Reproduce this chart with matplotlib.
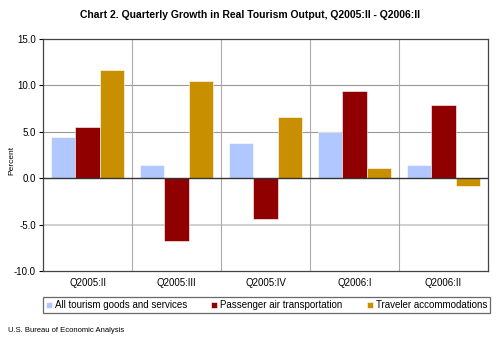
import matplotlib.pyplot as plt
import numpy as np

# --- Data ---
quarters = ["Q2005:II", "Q2005:III", "Q2005:IV", "Q2006:I", "Q2006:II"]
all_tourism = [4.4, 1.4, 3.8, 5.0, 1.4]
air_transport = [5.5, -6.8, -4.4, 9.4, 7.9]
accommodations = [11.7, 10.5, 6.6, 1.1, -0.8]

series_names = ["All tourism goods and services",
                "Passenger air transportation",
                "Traveler accommodations"]
series_colors = ["#B0C8FF", "#900000", "#C89000"]

plt.rcParams['font.family'] = ['Liberation Sans', 'DejaVu Sans']

fig = plt.figure(figsize=(5.0, 3.41), dpi=100)
ax = fig.add_axes([43 / 500, 1 - 271 / 341, 445 / 500, 232 / 341])

x = np.arange(len(quarters))
width = 0.27
for i, (vals, name, col) in enumerate(zip([all_tourism, air_transport, accommodations],
                                          series_names, series_colors)):
    ax.bar(x + (i - 1) * width, vals, width, color=col, label=name,
           edgecolor='white', linewidth=0.4, zorder=3)

ax.set_xlim(-0.5, len(quarters) - 0.5)
ax.set_ylim(-10, 15)
ax.set_yticks([-10, -5, 0, 5, 10, 15])
ax.set_yticklabels([f"{v:.1f}" for v in [-10, -5, 0, 5, 10, 15]], fontsize=7)
ax.set_xticks(x)
ax.set_xticklabels(quarters, fontsize=7)
ax.tick_params(axis='x', length=0, pad=5)
ax.tick_params(axis='y', length=3, width=0.8, pad=2)

# grid lines
for v in [5, 10]:
    ax.axhline(v, color='#999999', linewidth=0.8, zorder=1)
ax.axhline(-5, color='#c8c8c8', linewidth=1.2, zorder=1)
for b in np.arange(0.5, len(quarters) - 0.5, 1):
    ax.axvline(b, color='#aaaaaa', linewidth=0.8, zorder=1)
ax.axhline(0, color='#333333', linewidth=1.0, zorder=4)

for s in ax.spines.values():
    s.set_color('#444444')
    s.set_linewidth(0.9)

fig.text(12 / 500, 1 - 160 / 341, "Percent", rotation=90,
         ha='center', va='center', fontsize=6)

fig.text(0.5, 1 - 15 / 341, "Chart 2. Quarterly Growth in Real Tourism Output, Q2005:II - Q2006:II",
         ha='center', va='center', fontsize=7.5, fontweight='bold')

leg = fig.legend(loc='lower left', mode='expand',
                 bbox_to_anchor=(43 / 500, 1 - 313 / 341, 447 / 500, 16 / 341), ncol=3,
                 fontsize=7, frameon=True, fancybox=False, edgecolor='#444444',
                 handlelength=0.6, handleheight=0.6, handletextpad=0.3,
                 borderpad=0.3, borderaxespad=0)
leg.get_frame().set_linewidth(0.9)

fig.text(8 / 500, 1 - 331 / 341, "U.S. Bureau of Economic Analysis",
         ha='left', va='center', fontsize=5.5)

fig.savefig("out.png", dpi=100)
